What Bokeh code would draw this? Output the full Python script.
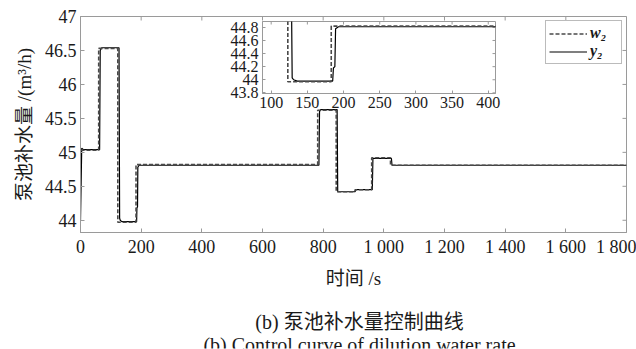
import math
from bokeh.plotting import figure
from bokeh.models import Range1d, FixedTicker, Legend, LegendItem
from bokeh.core.properties import value
from bokeh.layouts import column
from bokeh.embed import file_html
from bokeh.resources import INLINE

# ---------------- data ----------------
w2_t = [0, 60, 123, 183, 782, 843, 905, 960, 1022, 1800]
w2_v = [45.03, 46.53, 43.97, 44.82, 45.62, 44.42, 44.45, 44.92, 44.81, 44.81]
y2_t = [0, 4, 10, 63, 65, 70, 127, 129, 131, 136, 185, 186, 188, 189, 193,
        786, 788, 792, 846, 848, 905, 908, 962, 964, 1025, 1027, 1800]
y2_v = [44.0, 45.06, 45.04, 45.04, 46.5, 46.54, 46.54, 44.03, 44.0, 43.98, 43.98, 44.18, 44.2, 44.78, 44.81,
        44.81, 45.6, 45.63, 45.63, 44.42, 44.42, 44.45, 44.45, 44.91, 44.91, 44.81, 44.81]

x_ticks = [0, 200, 400, 600, 800, 1000, 1200, 1400, 1600, 1800]
x_tick_labels = ["0", "200", "400", "600", "800", "1 000", "1 200", "1 400", "1 600", "1 800"]
y_ticks = [44, 44.5, 45, 45.5, 46, 46.5, 47]
y_tick_labels = ["44", "44.5", "45", "45.5", "46", "46.5", "47"]

inset_x_ticks = [100, 150, 200, 250, 300, 350, 400]
inset_x_tick_labels = ["100", "150", "200", "250", "300", "350", "400"]
inset_y_ticks = [43.8, 44.0, 44.2, 44.4, 44.6, 44.8]
inset_y_tick_labels = ["43.8", "44", "44.2", "44.4", "44.6", "44.8"]

x_label = "时间 /s"
y_label = "泵池补水量 /(m³/h)"
captions = ["(b) 泵池补水量控制曲线", "(b) Control curve of dilution water rate"]
legend_labels = ["w₂", "y₂"]

SERIF = "Liberation Serif"
MIXED = "'Liberation Serif', 'Noto Sans CJK SC'"
GRAY = "#9a9a9a"
TXT = "#1a1a1a"


def style_axis(ax, ticks, labels, size, standoff, tick_in):
    ax.ticker = FixedTicker(ticks=ticks)
    ax.major_label_overrides = {t: l for t, l in zip(ticks, labels)}
    ax.axis_line_color = GRAY
    ax.major_tick_line_color = GRAY
    ax.minor_tick_line_color = None
    ax.major_tick_in = tick_in
    ax.major_tick_out = 0
    ax.major_label_text_font = SERIF
    ax.major_label_text_color = TXT
    ax.major_label_text_font_size = size
    ax.major_label_standoff = standoff


def box_ticks(fig, xt, yt, length):
    # inward tick marks on the top and right edges of the frame
    xr, yr = fig.x_range, fig.y_range
    fig.ray(x=xt, y=[yr.end] * len(xt), length=length, length_units="screen",
            angle=-math.pi / 2, line_color=GRAY, line_width=1)
    fig.ray(x=[xr.end] * len(yt), y=yt, length=length, length_units="screen",
            angle=math.pi, line_color=GRAY, line_width=1)


# ---------------- main figure ----------------
p = figure(width=636, height=349, output_backend="svg", toolbar_location=None,
           x_range=Range1d(0, 1800), y_range=Range1d(43.82, 47.0),
           min_border_left=80, min_border_right=10, min_border_top=16, min_border_bottom=117)
p.grid.visible = False
p.outline_line_color = GRAY
p.background_fill_color = "white"
p.border_fill_color = "white"

style_axis(p.xaxis[0], x_ticks, x_tick_labels, "18px", 4, 4)
style_axis(p.yaxis[0], y_ticks, y_tick_labels, "18px", 4, 4)
p.xaxis[0].axis_label = x_label
p.yaxis[0].axis_label = y_label
for ax in (p.xaxis[0], p.yaxis[0]):
    ax.axis_label_text_font = MIXED
    ax.axis_label_text_font_size = "19px"
    ax.axis_label_text_font_style = "normal"
    ax.axis_label_text_color = TXT
p.xaxis[0].axis_label_standoff = 8
p.yaxis[0].axis_label_standoff = 7
box_ticks(p, x_ticks, y_ticks, 4)

r_y = p.line(y2_t, y2_v, line_color="black", line_width=1.2)
r_w = p.step(w2_t, w2_v, mode="after", line_color="#4a4a4a", line_width=1.6, line_dash="4 2")

legend = Legend(items=[LegendItem(label=legend_labels[0], renderers=[r_w]),
                       LegendItem(label=legend_labels[1], renderers=[r_y])],
                location="top_right", margin=4, padding=3, spacing=0,
                glyph_width=38, glyph_height=15, label_height=15, label_width=28,
                label_standoff=3,
                label_text_font=SERIF, label_text_font_style="bold italic",
                label_text_font_size="16px", label_text_color=TXT,
                border_line_color="#777777", background_fill_color="white",
                background_fill_alpha=1.0)
p.add_layout(legend)

# ---------------- inset ----------------
ins = figure(frame_width=233, frame_height=72, output_backend="svg", toolbar_location=None,
             x_range=Range1d(88, 410), y_range=Range1d(43.79, 44.89),
             min_border_left=80, min_border_right=10, min_border_top=2, min_border_bottom=24,
             styles={"position": "absolute", "left": "182px", "top": "19px"})
ins.grid.visible = False
ins.outline_line_color = GRAY
ins.background_fill_color = "white"
ins.border_fill_alpha = 0
style_axis(ins.xaxis[0], inset_x_ticks, inset_x_tick_labels, "16px", 3, 3)
style_axis(ins.yaxis[0], inset_y_ticks, inset_y_tick_labels, "16px", 4, 3)
box_ticks(ins, inset_x_ticks, inset_y_ticks, 3)
ins.line(y2_t, y2_v, line_color="black", line_width=1.2)
ins.step(w2_t, w2_v, mode="after", line_color="#4a4a4a", line_width=1.6, line_dash="4 2")

# ---------------- captions (transparent strip below the chart) ----------------
cap = figure(frame_width=546, frame_height=60, output_backend="svg", toolbar_location=None,
             x_range=Range1d(80, 626), y_range=Range1d(0, 60),
             x_axis_location=None, y_axis_location=None,
             min_border_left=80, min_border_right=10, min_border_top=1, min_border_bottom=1,
             styles={"position": "absolute", "left": "0px", "top": "287px"})
cap.grid.visible = False
cap.outline_line_color = None
cap.background_fill_alpha = 0
cap.border_fill_alpha = 0
cap.text(x=[359, 359], y=[27, 4], text=captions, text_align="center",
         text_baseline="alphabetic", text_font=value(MIXED), text_font_size="20px",
         text_color=TXT)

layout = column(p, ins, cap)

open("out.html", "w").write(file_html(layout, INLINE))
